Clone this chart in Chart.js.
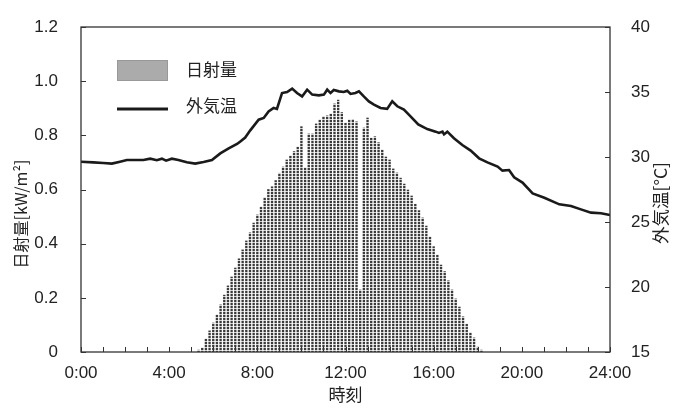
<!DOCTYPE html>
<html lang="ja">
<head>
<meta charset="utf-8">
<script src="https://cdn.jsdelivr.net/npm/chart.js@4.4.1/dist/chart.umd.min.js"></script>
<style>
  html, body { margin: 0; padding: 0; background: #fff; }
  #wrap { width: 686px; height: 412px; }
</style>
</head>
<body>
<div id="wrap"><canvas id="chart" width="686" height="412"></canvas></div>
<script>
// 日射量 (kW/m2), 10分ごと, 5:20 から
const radStart = 5 + 20 / 60;
const radStep = 10 / 60;
const radiation = [
  0.007, 0.015, 0.048, 0.078, 0.107, 0.137, 0.174, 0.21, 0.244, 0.277,
  0.31, 0.344, 0.377, 0.41, 0.44, 0.476, 0.506, 0.535, 0.57, 0.60,
  0.61, 0.633, 0.66, 0.683, 0.709, 0.724, 0.74, 0.757, 0.832, 0.68,
  0.805, 0.805, 0.842, 0.857, 0.869, 0.872, 0.879, 0.916, 0.93, 0.884,
  0.845, 0.857, 0.859, 0.85, 0.229, 0.827, 0.864, 0.79, 0.795, 0.773,
  0.746, 0.72, 0.709, 0.676, 0.661, 0.642, 0.62, 0.598, 0.576, 0.546,
  0.522, 0.495, 0.465, 0.425, 0.389, 0.358, 0.321, 0.297, 0.263, 0.229,
  0.196, 0.166, 0.13, 0.103, 0.071, 0.052, 0.018, 0.007
];

// 外気温 (°C), 時刻は時間単位
const tempHours = [
  0.00, 0.56, 1.01, 1.40, 1.77, 2.08, 2.83, 3.14, 3.44, 3.67,
  3.86, 4.12, 4.42, 4.80, 5.18, 5.56, 5.94, 6.32, 6.70, 7.08,
  7.23, 7.45, 7.68, 8.06, 8.29, 8.51, 8.74, 8.89, 9.12, 9.35,
  9.58, 9.80, 10.03, 10.26, 10.49, 10.79, 11.02, 11.17, 11.32, 11.47,
  11.70, 11.92, 12.08, 12.23, 12.45, 12.61, 12.83, 13.06, 13.29, 13.59,
  13.89, 14.12, 14.35, 14.65, 14.95, 15.30, 15.71, 16.09, 16.24, 16.40,
  16.47, 16.62, 16.92, 17.30, 17.68, 18.06, 18.44, 18.90, 19.12, 19.42,
  19.65, 20.03, 20.49, 21.02, 21.70, 22.23, 22.68, 23.14, 23.59, 24.00
];
const tempValues = [
  29.64, 29.59, 29.54, 29.49, 29.64, 29.77, 29.77, 29.87, 29.75, 29.87,
  29.72, 29.87, 29.77, 29.59, 29.49, 29.62, 29.77, 30.28, 30.67, 31.0,
  31.2, 31.5, 32.05, 32.87, 33.0, 33.5, 33.77, 33.7, 34.92, 35.0,
  35.26, 34.92, 34.66, 35.18, 34.8, 34.74, 34.8, 35.18, 34.92, 35.15,
  35.05, 35.0, 35.1, 34.85, 34.92, 35.05, 34.66, 34.28, 34.03, 33.77,
  33.7, 34.28, 33.9, 33.64, 33.13, 32.5, 32.15, 31.95, 31.85, 31.95,
  31.74, 31.95, 31.44, 30.92, 30.49, 29.9, 29.59, 29.26, 28.95, 29.0,
  28.44, 28.03, 27.2, 26.87, 26.36, 26.23, 25.97, 25.72, 25.67, 25.54
];

const xTicks = [0, 4, 8, 12, 16, 20, 24];
const leftTitle = '日射量[kW/m²]';
const rightTitle = '外気温[°C]';
const xTitle = '時刻';

const latinFont = "'Liberation Sans', Arial, 'Noto Sans CJK JP', sans-serif";
const cjkFont = "'Noto Sans CJK JP', 'Liberation Sans', sans-serif";
const ink = '#222';

const canvas = document.getElementById('chart');
const ctx = canvas.getContext('2d');

// 点々模様の棒
const patCanvas = document.createElement('canvas');
patCanvas.width = 2;
patCanvas.height = 3;
const pc = patCanvas.getContext('2d');
pc.fillStyle = '#3a3a3a';
pc.fillRect(0, 0, 2, 2);
pc.fillStyle = '#cfcfcf';
pc.fillRect(0, 2, 2, 1);
const barPattern = ctx.createPattern(patCanvas, 'repeat');

// 枠・内向き目盛・凡例・縦軸タイトル
const framePlugin = {
  id: 'framePlugin',
  afterDraw(chart) {
    const c = chart.ctx;
    const a = chart.chartArea;
    const sx = chart.scales.x, sy = chart.scales.y, sy2 = chart.scales.y2;
    c.save();
    c.strokeStyle = '#333';
    c.lineWidth = 1.3;
    c.strokeRect(a.left, a.top, a.right - a.left, a.bottom - a.top);

    c.lineWidth = 1;
    c.beginPath();
    sx.ticks.forEach(t => {
      const px = Math.round(sx.getPixelForValue(t.value)) + 0.5;
      c.moveTo(px, a.bottom);
      c.lineTo(px, a.bottom - 5);
    });
    sy.ticks.forEach(t => {
      const py = Math.round(sy.getPixelForValue(t.value)) + 0.5;
      c.moveTo(a.left, py);
      c.lineTo(a.left + 5, py);
    });
    sy2.ticks.forEach(t => {
      const py = Math.round(sy2.getPixelForValue(t.value)) + 0.5;
      c.moveTo(a.right, py);
      c.lineTo(a.right - 5, py);
    });
    c.stroke();

    // 凡例
    const ds = chart.data.datasets;
    c.fillStyle = '#ababab';
    c.fillRect(117, 60, 51, 21);
    c.strokeStyle = '#999';
    c.lineWidth = 1;
    c.strokeRect(117.5, 60.5, 50, 20);
    c.strokeStyle = '#1a1a1a';
    c.lineWidth = 3;
    c.beginPath();
    c.moveTo(117, 109);
    c.lineTo(168, 109);
    c.stroke();
    c.fillStyle = ink;
    c.font = '17px ' + cjkFont;
    c.textAlign = 'left';
    c.textBaseline = 'middle';
    c.fillText(ds[0].label, 186, 70);
    c.fillText(ds[1].label, 186, 106);

    // 縦軸タイトル
    c.textAlign = 'center';
    c.font = '16px ' + cjkFont;
    c.save();
    c.translate(21, 214);
    c.rotate(-Math.PI / 2);
    c.fillText(leftTitle, 0, 0);
    c.restore();
    c.font = '17.5px ' + cjkFont;
    c.save();
    c.translate(660, 203);
    c.rotate(-Math.PI / 2);
    c.fillText(rightTitle, 0, 0);
    c.restore();
    c.restore();
  }
};

new Chart(ctx, {
  type: 'bar',
  data: {
    datasets: [
      {
        type: 'bar',
        label: '日射量',
        data: radiation.map((v, i) => ({ x: radStart + i * radStep, y: v })),
        backgroundColor: barPattern,
        borderWidth: 0,
        barThickness: 1.7,
        xAxisID: 'x',
        yAxisID: 'y',
        order: 2
      },
      {
        type: 'line',
        label: '外気温',
        data: tempHours.map((h, i) => ({ x: h, y: tempValues[i] })),
        borderColor: '#1a1a1a',
        borderWidth: 2.6,
        pointRadius: 0,
        tension: 0,
        fill: false,
        xAxisID: 'x',
        yAxisID: 'y2',
        order: 1
      }
    ]
  },
  options: {
    responsive: false,
    animation: false,
    events: [],
    layout: { padding: { top: 27, left: 0, right: 0, bottom: 0 } },
    plugins: {
      legend: { display: false },
      tooltip: { enabled: false }
    },
    scales: {
      x: {
        type: 'linear',
        min: 0,
        max: 24,
        offset: false,
        grid: { display: false, offset: false },
        border: { display: false },
        afterFit: s => { s.height = 60; },
        ticks: {
          stepSize: 1,
          autoSkip: false,
          maxRotation: 0,
          padding: 3,
          color: ink,
          font: { family: latinFont, size: 17 },
          callback: v => xTicks.includes(v) ? v + ':00' : ''
        },
        title: {
          display: true,
          text: xTitle,
          color: ink,
          padding: { top: 0, bottom: 7 },
          font: { family: cjkFont, size: 17 }
        }
      },
      y: {
        position: 'left',
        min: 0,
        max: 1.2,
        grid: { display: false },
        border: { display: false },
        afterFit: s => { s.width = 81; },
        ticks: {
          stepSize: 0.2,
          padding: 15,
          color: ink,
          font: { family: latinFont, size: 17 },
          callback: v => v === 0 ? '0' : v.toFixed(1)
        }
      },
      y2: {
        position: 'right',
        min: 15,
        max: 40,
        grid: { display: false },
        border: { display: false },
        afterFit: s => { s.width = 76; },
        ticks: {
          stepSize: 5,
          padding: 13,
          color: ink,
          font: { family: latinFont, size: 17 }
        }
      }
    }
  },
  plugins: [framePlugin]
});
</script>
</body>
</html>
